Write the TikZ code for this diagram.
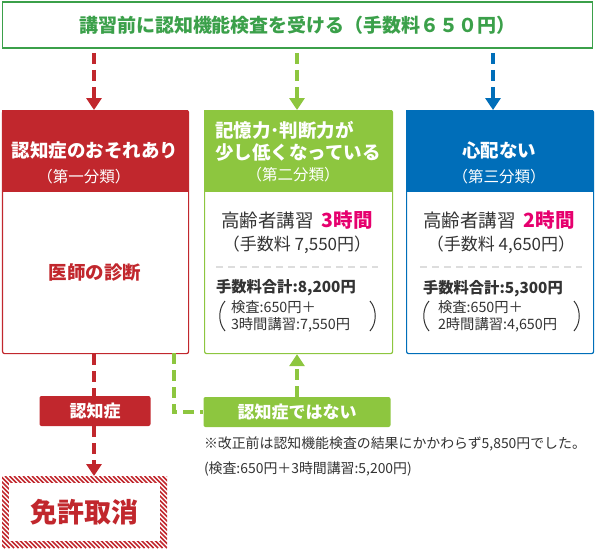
\documentclass[tikz,border=0pt]{standalone}
\usepackage{fontspec}
\setmainfont{Noto Sans CJK JP}
\usetikzlibrary{arrows.meta}
\definecolor{topgreen}{HTML}{3BA04A}
\definecolor{rred}{HTML}{C1272D}
\definecolor{lgreen}{HTML}{8DC63F}
\definecolor{bblue}{HTML}{006EB9}
\definecolor{hpink}{HTML}{E6006E}
\definecolor{txt}{HTML}{333333}
\definecolor{sepgray}{HTML}{DDDDDD}
\newcommand\fsz[2]{\fontsize{#1pt}{#2pt}\selectfont}
\begin{document}
\begin{tikzpicture}[x=1pt,y=-1pt,
  lbl/.style={inner sep=0pt, outer sep=0pt},
  dashline/.style={line width=4.5pt, dash pattern=on 11pt off 6pt},
  tipdown/.style={-{Triangle[width=15pt,length=12pt]}},
  mainbox/.style={draw, line width=1.2pt, rounded corners=2pt, minimum width=#1, minimum height=243pt, anchor=north west, inner sep=0pt},
  headbox/.style={minimum width=#1, minimum height=82pt, anchor=north west, inner sep=0pt},
  headtxt/.style={lbl, text=white, font=\fsz{18.5}{22}\bfseries},
  subtxt/.style={lbl, text=white, font=\fsz{15.5}{18}},
  coursetxt/.style={lbl, text=txt, font=\fsz{18.5}{22}},
  feetxt/.style={lbl, text=txt, font=\fsz{17}{20}},
  totaltxt/.style={lbl, text=txt, font=\fsz{15.3}{18}\bfseries, anchor=west},
  smalltxt/.style={lbl, text=txt, font=\fsz{14.3}{17}, anchor=west, align=left},
  sepline/.style={sepgray, line width=1.2pt, dash pattern=on 7pt off 5pt},
  paren/.style={txt, line width=1pt},
  notetxt/.style={lbl, text=txt, font=\fsz{13.9}{17}, anchor=west},
  tag/.style={rounded corners=2pt, text=white, font=\fsz{17}{20}\bfseries, inner sep=0pt}
]
\useasboundingbox (0,0) rectangle (595,549);

% top box
\node[draw=topgreen, line width=1.6pt, minimum width=590pt, minimum height=46pt, text=topgreen,
  font=\fsz{19}{22}\bfseries, inner sep=0pt] (top) at (297.5,25) {講習前に認知機能検査を受ける（手数料６５０円）};

% headers
\node[headbox=186pt, fill=rred] (rhead) at (2,110) {};
\node[headbox=188pt, fill=lgreen] (ghead) at (204,110) {};
\node[headbox=187pt, fill=bblue] (bhead) at (406,110) {};

% box outlines
\node[mainbox=186pt, draw=rred] (rbox) at (2,110) {};
\node[mainbox=188pt, draw=lgreen] (gbox) at (204,110) {};
\node[mainbox=187pt, draw=bblue] (bbox) at (406,110) {};

% header texts
\node[headtxt] (rh1) at (95,150) {認知症のおそれあり};
\node[subtxt] (rh2) at (84,177) {（第一分類）};
\node[headtxt, font=\fsz{18.5}{22}\bfseries, align=left] (gh1) at (298,141) {記憶力･判断力が\\少し低くなっている};
\node[subtxt] (gh2) at (293,175) {（第二分類）};
\node[headtxt] (bh1) at (499,150) {心配ない};
\node[subtxt] (bh2) at (499,177) {（第三分類）};

% red box content
\node[lbl, text=rred, font=\fsz{18.5}{22}\bfseries] (diag) at (95,272) {医師の診断};

% green box content
\node[coursetxt] (gc) at (297,220) {高齢者講習\hspace{0.45em}{\color{hpink}\bfseries\fsz{19.5}{22}3時間}};
\node[feetxt] (gf) at (297,245) {（手数料 7,550円）};
\draw[sepline] (216,267) -- (378,267);
\node[totaltxt] (gt) at (216,288) {手数料合計:8,200円};
\node[smalltxt] (gd) at (231,316) {検査:650円＋\\3時間講習:7,550円};
\draw[paren] (225,301) .. controls (218,309) and (218,323) .. (225,331);
\draw[paren] (370,301) .. controls (377,309) and (377,323) .. (370,331);

% blue box content
\node[coursetxt] (bc) at (499,220) {高齢者講習\hspace{0.45em}{\color{hpink}\bfseries\fsz{19.5}{22}2時間}};
\node[feetxt] (bf) at (501,245) {（手数料 4,650円）};
\draw[sepline] (420,267) -- (582,267);
\node[totaltxt] (bt) at (423,289) {手数料合計:5,300円};
\node[smalltxt] (bd) at (438,316) {検査:650円＋\\2時間講習:4,650円};
\draw[paren] (429,301) .. controls (422,309) and (422,323) .. (429,331);
\draw[paren] (574,301) .. controls (581,309) and (581,323) .. (574,331);

% top arrows
\coordinate (rx) at (94,0);
\coordinate (gx) at (297,0);
\coordinate (bx) at (493,0);
\draw[dashline, rred, tipdown, shorten <=4pt] (top.south -| rx) -- (rhead.north -| rx);
\draw[dashline, lgreen, tipdown, shorten <=4pt] (top.south -| gx) -- (ghead.north -| gx);
\draw[dashline, bblue, tipdown, shorten <=4pt] (top.south -| bx) -- (bhead.north -| bx);

% bottom tags
\node[tag, fill=rred, minimum width=111pt, minimum height=30pt] (rdem) at (95,411) {認知症};
\node[tag, fill=lgreen, minimum width=187pt, minimum height=30pt] (gno) at (297,412) {認知症ではない};

% license revocation box (hatched frame)
\begin{scope}
  \clip (2,476) rectangle (167,548);
  \foreach \i in {-76,-71.5,...,170} \draw[rred, line width=1.6pt] (\i,476) -- ++(72,72);
\end{scope}
\fill[white] (9,483) rectangle (160,541);
\node[lbl, text=rred, font=\fsz{27}{30}\bfseries, minimum width=165pt, minimum height=72pt] (menkyo) at (84.5,512) {免許取消};

% bottom connectors
\draw[dashline, rred] (rbox.south -| rx) -- (rdem.north -| rx);
\draw[dashline, rred, tipdown] (rdem.south -| rx) -- (menkyo.north -| rx);
\coordinate (gs) at (174,353);
\draw[dashline, lgreen] (gs) |- (gno.west);
\draw[dashline, lgreen, tipdown] (gno.north) -- (gno.north |- gbox.south);

% notes
\node[notetxt] (n1) at (204,444) {※改正前は認知機能検査の結果にかかわらず5,850円でした。};
\node[notetxt] (n2) at (204,469) {(検査:650円＋3時間講習:5,200円)};
\end{tikzpicture}
\end{document}
